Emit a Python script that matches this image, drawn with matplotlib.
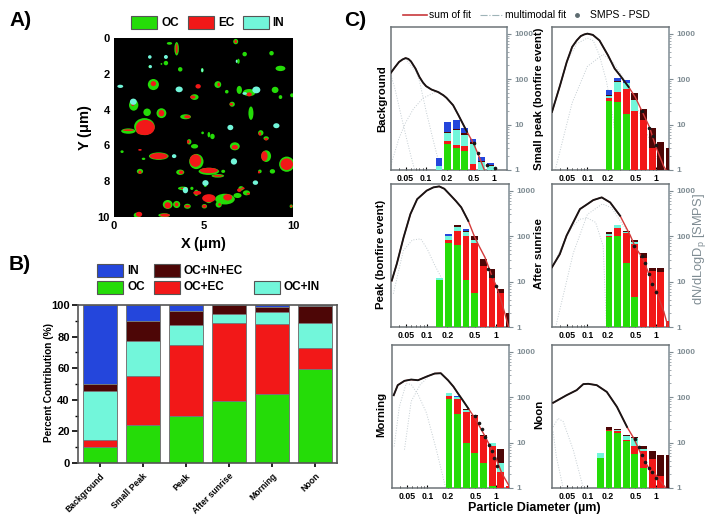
import matplotlib
matplotlib.use("Agg")
import matplotlib.pyplot as plt
import numpy as np
from matplotlib.patches import Ellipse, Rectangle

plt.rcParams['font.family'] = ['Liberation Sans', 'DejaVu Sans']
plt.rcParams['font.weight'] = 'bold'
plt.rcParams['mathtext.default'] = 'regular'

W, H = 709, 519
GREEN, RED, CYAN, DARK, BLUE = '#25dc08', '#f21818', '#72f6da', '#4d0606', '#2446dc'
GREY = '#7f8c93'

# ---- panel A particles: x, y, width, height (um)
oc_x = [3.5, 3.1, 6.8, 2.0, 2.9, 2.65, 3.7, 4.93, 7.3, 6.95, 8.8, 9.3, 9.0, 2.2, 5.8, 6.3, 7.0, 7.55, 8.95, 9.3, 4.5, 6.6, 1.1, 1.85, 2.65, 4.0, 7.65, 5.3, 5.5, 4.95, 0.45, 1.65, 8.2, 8.5, 4.2, 4.5, 6.75, 2.5, 4.6, 5.3, 5.8, 3.7, 8.5, 9.65, 1.45, 8.15, 8.85, 6.1, 3.85, 4.6, 5.3, 5.05, 6.2, 5.85, 6.9, 7.1, 7.4, 3.0, 2.8, 3.5, 4.1, 9.9, 1.3, 5.1, 4.35, 9.95, 1.7, 0.8]
oc_y = [0.6, 0.3, 0.2, 1.6, 1.4, 1.45, 1.75, 1.8, 0.9, 1.3, 0.85, 1.7, 2.9, 2.6, 2.6, 3.0, 2.9, 3.05, 2.9, 3.3, 3.3, 3.7, 3.75, 4.15, 4.2, 4.4, 4.2, 5.4, 5.5, 5.3, 6.35, 6.75, 5.3, 5.6, 5.8, 6.05, 6.05, 6.6, 6.9, 7.45, 7.7, 7.5, 6.6, 7.05, 7.45, 7.45, 7.45, 7.45, 8.4, 8.65, 9.0, 9.4, 9.0, 9.3, 8.8, 8.4, 8.65, 9.3, 9.9, 9.3, 9.4, 9.4, 9.9, 8.25, 8.4, 3.2, 4.95, 5.2]
oc_w = [0.25, 0.3, 0.28, 0.15, 0.25, 0.1, 0.25, 0.15, 0.25, 0.15, 0.25, 0.55, 0.38, 0.62, 0.38, 0.2, 0.3, 0.7, 0.1, 0.2, 0.45, 0.3, 0.52, 0.42, 0.55, 0.6, 0.28, 0.15, 0.25, 0.15, 0.18, 0.2, 0.3, 0.3, 0.25, 0.4, 0.55, 1.1, 0.8, 1.15, 0.7, 0.45, 0.55, 0.85, 0.35, 0.2, 0.3, 0.22, 0.55, 0.25, 0.45, 0.3, 1.1, 0.35, 0.45, 0.3, 0.4, 0.55, 0.65, 0.4, 0.38, 0.18, 0.4, 0.15, 0.18, 0.22, 1.15, 0.8]
oc_h = [0.75, 0.15, 0.3, 0.15, 0.25, 0.1, 0.25, 0.25, 0.25, 0.28, 0.25, 0.3, 0.35, 0.62, 0.38, 0.2, 0.45, 0.4, 0.1, 0.22, 0.32, 0.28, 0.62, 0.42, 0.55, 0.28, 0.75, 0.3, 0.3, 0.15, 0.15, 0.13, 0.3, 0.22, 0.3, 0.25, 0.45, 0.42, 0.85, 0.4, 0.2, 0.3, 0.65, 0.85, 0.28, 0.2, 0.25, 0.18, 0.2, 0.35, 0.45, 0.25, 0.6, 0.35, 0.28, 0.25, 0.28, 0.5, 0.22, 0.4, 0.28, 0.2, 0.3, 0.15, 0.18, 0.22, 0.95, 0.3]
ec_x = [3.5, 6.8, 2.2, 5.85, 7.55, 4.7, 4.4, 6.55, 1.05, 2.65, 4.1, 1.75, 1.55, 0.8, 8.15, 8.5, 4.15, 6.75, 1.45, 2.5, 4.55, 5.3, 5.8, 3.75, 8.4, 9.65, 1.45, 8.1, 3.8, 4.65, 5.3, 5.05, 6.35, 5.9, 7.0, 7.2, 7.5, 3.0, 2.85, 3.5, 4.1, 9.9, 1.4, 5.1]
ec_y = [0.6, 0.2, 2.55, 2.6, 3.15, 2.7, 3.3, 3.7, 3.7, 4.2, 4.4, 5.0, 5.2, 5.15, 5.35, 5.65, 5.8, 6.1, 6.25, 6.6, 6.85, 7.4, 7.7, 7.5, 6.6, 7.05, 7.5, 7.5, 8.4, 8.65, 8.95, 9.4, 8.9, 9.3, 8.5, 8.4, 8.7, 9.35, 9.9, 9.3, 9.4, 9.4, 9.85, 8.2]
ec_w = [0.12, 0.15, 0.3, 0.15, 0.3, 0.3, 0.3, 0.2, 0.18, 0.32, 0.35, 1.05, 0.6, 0.6, 0.15, 0.2, 0.15, 0.35, 0.2, 1.0, 0.65, 1.0, 0.55, 0.25, 0.36, 0.7, 0.18, 0.12, 0.15, 0.45, 0.75, 0.25, 0.5, 0.15, 0.25, 0.2, 0.2, 0.35, 0.55, 0.2, 0.3, 0.12, 0.35, 0.08]
ec_h = [0.55, 0.18, 0.28, 0.22, 0.22, 0.25, 0.18, 0.15, 0.2, 0.35, 0.18, 0.85, 0.4, 0.1, 0.2, 0.15, 0.2, 0.25, 0.1, 0.35, 0.7, 0.3, 0.1, 0.2, 0.55, 0.65, 0.18, 0.14, 0.08, 0.22, 0.45, 0.18, 0.35, 0.15, 0.2, 0.12, 0.12, 0.35, 0.18, 0.22, 0.15, 0.12, 0.28, 0.08]
in_x = [2.0, 2.03, 0.35, 3.64, 6.5, 9.07, 3.36, 6.7, 7.9, 7.95, 7.3, 1.08, 5.11, 3.99, 2.9, 4.93, 6.85]
in_y = [1.06, 1.6, 2.7, 2.87, 5.0, 4.9, 6.6, 6.9, 8.08, 2.9, 3.1, 3.56, 8.1, 8.5, 1.06, 1.8, 1.3]
in_w = [0.2, 0.18, 0.33, 0.4, 0.33, 0.35, 0.25, 0.35, 0.3, 0.45, 0.25, 0.38, 0.35, 0.3, 0.22, 0.12, 0.1]
in_h = [0.2, 0.18, 0.18, 0.32, 0.3, 0.28, 0.22, 0.35, 0.25, 0.38, 0.15, 0.35, 0.32, 0.35, 0.22, 0.2, 0.18]

# ---- panel B cumulative tops (%)
b_labels = ['Background', 'Small Peak', 'Peak', 'After sunrise', 'Morning', 'Noon']
b_oc = [10.1, 24.1, 29.8, 39.5, 43.6, 59.2]
b_ec = [14.8, 55.2, 74.8, 88.6, 88.0, 72.9]
b_in = [45.7, 77.4, 87.1, 94.5, 95.6, 88.6]
b_mix = [50.3, 89.9, 96.0, 100, 98.5, 99.6]
b_blue = [100, 100, 100, 100, 100, 100]

# ---- panel C size bins (um) and cumulative bar tops: OC, EC, OC+IN, mix, IN
bins = [0.155, 0.207, 0.277, 0.37, 0.49, 0.66, 0.88, 1.17, 1.56]
bg_tops = [[1, 3.8, 3.1, 2.65, 1, 1, 1, 1, 1],
           [1, 4.4, 3.5, 3.4, 1.35, 1, 1, 1, 1],
           [1.2, 6.4, 7.5, 6.0, 3.8, 1.5, 1.25, 1, 1],
           [1.2, 6.9, 7.8, 6.4, 4.2, 1.6, 1.3, 1, 1],
           [1.8, 11.5, 12.3, 8.2, 4.8, 1.9, 1.45, 1, 1]]
small_tops = [[1, 33, 31, 17, 1, 1, 1, 1, 1],
              [1, 38, 53, 60, 20, 12.5, 3.1, 1, 1],
              [1, 42, 87, 80, 35, 12.5, 3.1, 1, 1],
              [1, 44, 90, 84, 50, 22.5, 8.5, 4.1, 3.1],
              [1, 57, 107, 94, 50, 22.5, 8.5, 4.1, 3.1]]
peak_tops = [[11, 70, 65, 11, 5.5, 1, 1, 1, 1],
             [11, 80, 132, 103, 70, 22, 12, 5.5, 1],
             [12, 100, 160, 125, 82, 22, 12, 5.5, 1],
             [12, 103, 175, 130, 100, 31, 19, 7, 2],
             [12, 111, 175, 143, 100, 31, 19, 7, 2]]
sunrise_tops = [[1, 95, 100, 26, 4.6, 1, 1, 1, 1],
                [1, 103, 153, 115, 67, 33, 17.5, 16, 1.35],
                [1, 110, 178, 120, 76, 33, 17.5, 16, 1.35],
                [1, 120, 178, 130, 82, 43, 20, 20, 1.35],
                [1, 120, 178, 130, 82, 43, 20, 20, 1.35]]
morning_tops = [[1, 89, 43, 10, 5.8, 3.5, 1.1, 1, 1],
                [1, 108, 93, 48, 39, 14, 8.5, 2.3, 1.1],
                [1, 120, 100, 53, 39, 14, 9.7, 3.5, 1.1],
                [1, 125, 100, 55, 40, 15, 9.7, 7.2, 1.1],
                [1, 125, 108, 55, 40, 15, 9.7, 7.2, 1.1]]
noon_tops = [[4.5, 18, 16.5, 10.8, 5.7, 2.8, 1, 1, 1],
             [4.5, 18.5, 18, 11.2, 8.5, 6.5, 4.4, 1.8, 1],
             [6, 19, 18.5, 13.8, 12.8, 7.2, 4.4, 1.8, 1],
             [6, 21.7, 20, 14.3, 13, 8.5, 6.5, 5.2, 5.2],
             [6, 21.7, 20, 14.3, 13, 8.5, 6.5, 5.2, 5.2]]

# ---- panel C sum of fit
bg_d = [0.0305, 0.035, 0.04, 0.045, 0.05, 0.055, 0.06, 0.07, 0.08, 0.09, 0.1, 0.12, 0.15, 0.18, 0.2, 0.25, 0.3, 0.4, 0.5, 0.6, 0.72]
bg_fit = [139, 184, 238, 270, 290, 277, 245, 170, 111, 84, 70, 59, 52, 44, 38.6, 26.6, 16, 6.9, 3.8, 2, 1]
small_d = [0.0305, 0.04, 0.05, 0.06, 0.07, 0.08, 0.09, 0.1, 0.12, 0.15, 0.2, 0.25, 0.3, 0.4, 0.5, 0.6, 0.8, 1.0, 1.3, 1.4]
small_fit = [19, 73, 237, 510, 710, 883, 960, 1000, 940, 710, 333, 170, 120, 67, 40, 22.5, 9, 3.2, 1.2, 1]
peak_d = [0.0313, 0.037, 0.0464, 0.0582, 0.0729, 0.1, 0.125, 0.152, 0.18, 0.225, 0.265, 0.316, 0.4, 0.496, 0.58, 0.697, 0.85, 1.03, 1.25, 1.53]
peak_fit = [10.5, 24.5, 94, 305, 650, 1000, 1180, 1240, 1100, 770, 590, 430, 215, 94, 58, 34, 15, 7.5, 3, 1]
sunrise_d = [0.0305, 0.0396, 0.0497, 0.0622, 0.078, 0.1, 0.122, 0.162, 0.215, 0.3, 0.424, 0.5, 0.63, 0.79, 1.0, 1.3, 1.5]
sunrise_fit = [20.7, 40, 102, 200, 393, 505, 620, 710, 550, 280, 102, 57, 34, 14.8, 6.4, 2.2, 1]
morning_d = [0.0323, 0.037, 0.0464, 0.058, 0.073, 0.1, 0.128, 0.157, 0.2, 0.24, 0.28, 0.33, 0.396, 0.496, 0.697, 0.978, 1.22, 1.62]
morning_fit = [110, 183, 228, 243, 235, 287, 330, 335, 235, 170, 120, 84, 56, 34, 13.5, 4.9, 2.1, 1]
noon_d = [0.0317, 0.0497, 0.0697, 0.0873, 0.103, 0.137, 0.192, 0.27, 0.379, 0.475, 0.63, 0.79, 0.99, 1.39]
noon_fit = [75, 110, 142, 193, 196, 183, 130, 61, 22, 12.4, 4.9, 2.7, 1.96, 1]

# ---- panel C individual modes: (diameters, values)
bg_modes = [([0.0305, 0.035, 0.04, 0.05, 0.06, 0.068], [120, 60, 25, 6, 2, 1]),
            ([0.05, 0.07, 0.08, 0.1, 0.13, 0.165], [280, 150, 90, 20, 4, 1]),
            ([0.0305, 0.04, 0.05, 0.065, 0.09, 0.15, 0.2], [1.3, 5, 11, 22, 38, 55, 39])]
small_modes = [([0.0305, 0.05, 0.07, 0.1, 0.122, 0.15, 0.19, 0.24, 0.285], [19, 230, 600, 800, 700, 330, 90, 12, 1]),
               ([0.034, 0.06, 0.1, 0.17, 0.24, 0.42, 0.75, 1.2], [1, 30, 190, 350, 230, 62, 6, 1])]
peak_modes = [([0.033, 0.046, 0.062, 0.082, 0.102, 0.128, 0.166], [5.4, 48, 82, 87, 52, 24.5, 11.5])]
sunrise_modes = [([0.0305, 0.0497, 0.0622, 0.078, 0.1, 0.132, 0.17, 0.19], [20, 100, 170, 235, 250, 200, 60, 1]),
                 ([0.0345, 0.0497, 0.0622, 0.1, 0.165, 0.225, 0.42, 1.0], [1, 10, 42, 300, 510, 420, 102, 6.4])]
morning_modes = [([0.0328, 0.039, 0.049, 0.058, 0.073, 0.097, 0.135, 0.185], [8.2, 61, 198, 190, 115, 45, 7, 1]),
                 ([0.0464, 0.058, 0.079, 0.104], [7, 80, 190, 280])]
noon_modes = [([0.0317, 0.0373, 0.0444, 0.0622, 0.0873], [22, 34, 29, 6.9, 1]),
              ([0.0317, 0.0353, 0.0444], [17.4, 4.9, 1])]

# ---- panel C SMPS tails drawn as dots
bg_tail = ([0.5, 0.59, 0.78, 1.03], [4, 2.4, 1.3, 1.1])
small_tail = ([0.63, 0.8, 0.9, 1.0], [20, 8.5, 5.5, 3.5])
peak_tail = ([0.78, 0.87, 1.0], [19, 13, 8])
sunrise_tail = ([0.48, 0.63, 0.7, 0.79, 0.89, 1.0], [62, 36, 26, 15, 9, 6])
morning_tail = ([0.5, 0.56, 0.63, 0.7, 0.79, 0.87, 0.95, 1.02], [38, 27, 20, 13.5, 9, 6.5, 4.5, 3])
noon_tail = ([0.49, 0.56, 0.63, 0.7, 0.79, 0.89, 1.0], [12, 8, 5.4, 3.7, 2.7, 2.2, 1.7])

fig = plt.figure(figsize=(W / 100, H / 100), dpi=100)


def px_axes(left, top, right, bottom, **kw):
    return fig.add_axes([left / W, 1 - bottom / H, (right - left) / W, (bottom - top) / H], **kw)


# overlay for hand placed legends and labels, in pixels
over = fig.add_axes([0, 0, 1, 1], zorder=10)
over.set_xlim(0, W)
over.set_ylim(H, 0)
over.axis('off')


def box(x0, y0, x1, y1, color, edge='#555555'):
    over.add_patch(Rectangle((x0, y0), x1 - x0, y1 - y0, facecolor=color, edgecolor=edge, lw=0.8))


def label(x, y, s, size=8.5, **kw):
    over.text(x, y, s, fontsize=size, va='center', **kw)


label(9, 21, 'A)', 15)
label(9, 265, 'B)', 15)
label(344, 20, 'C)', 15)

# ---- A
for x0, s, c, tx in [(131, 'OC', GREEN, 161), (188, 'EC', RED, 218), (243, 'IN', CYAN, 272)]:
    box(x0, 16, x0 + 26, 29, c)
    label(tx, 22.5, s, 8.5)

ax = px_axes(114, 38, 293, 217)
ax.set_facecolor('black')
ax.set_xlim(0, 10)
ax.set_ylim(10, 0)
for x, y, w, h in zip(oc_x, oc_y, oc_w, oc_h):
    ax.add_patch(Ellipse((x, y), w, h, color=GREEN, lw=0))
for x, y, w, h in zip(ec_x, ec_y, ec_w, ec_h):
    ax.add_patch(Ellipse((x, y), w, h, color=RED, lw=0))
for x, y, w, h in zip(in_x, in_y, in_w, in_h):
    ax.add_patch(Ellipse((x, y), w, h, color=CYAN, lw=0))
ax.set_xticks([0, 5, 10])
ax.set_yticks([0, 2, 4, 6, 8, 10])
ax.tick_params(length=0, labelsize=8, pad=3)
for s in ax.spines.values():
    s.set_visible(False)
over.text(203, 244, 'X ($\\mu$m)', fontsize=10.5, ha='center', va='center')
over.text(85, 128, 'Y ($\\mu$m)', fontsize=10.5, rotation=90, ha='center', va='center')

# ---- B
box(97, 264, 123, 277, BLUE)
label(127, 270.5, 'IN', 8.5)
box(154, 264, 180, 277, DARK)
label(184, 270.5, 'OC+IN+EC', 8.5)
box(97, 281, 123, 294, GREEN)
label(127, 287.5, 'OC', 8.5)
box(154, 281, 180, 294, RED)
label(184, 287.5, 'OC+EC', 8.5)
box(254, 281, 280, 294, CYAN)
label(284, 287.5, 'OC+IN', 8.5)

ax = px_axes(78, 305, 337, 463)
pos = np.arange(len(b_labels))
bottom = np.zeros(len(b_labels))
for tops, c in [(b_oc, GREEN), (b_ec, RED), (b_in, CYAN), (b_mix, DARK), (b_blue, BLUE)]:
    tops = np.array(tops)
    ax.bar(pos, tops - bottom, 0.79, bottom=bottom, color=c, edgecolor='#777777', lw=0.7)
    bottom = tops
ax.set_xlim(-0.51, 5.51)
ax.set_ylim(0, 100)
ax.set_xticks(pos)
ax.set_xticklabels(b_labels, rotation=45, ha='right', rotation_mode='anchor', fontsize=6.2)
ax.set_yticks(range(0, 101, 20))
ax.set_yticks(range(10, 100, 20), minor=True)
ax.tick_params(axis='y', labelsize=8, width=1.2, length=4, pad=2)
ax.tick_params(axis='y', which='minor', width=1, length=2)
ax.tick_params(axis='x', length=3, width=1.2, pad=3)
over.text(49, 383, 'Percent Contribution (%)', fontsize=7.3, rotation=90, ha='center', va='center')
for s in ax.spines.values():
    s.set_color('#555555')
    s.set_linewidth(1.2)

# ---- C
over.plot([403, 427], [15, 15], color='#c8383c', lw=1.2)
label(429, 15, 'sum of fit', 7.5, fontweight='normal')
over.plot([480, 503], [15, 15], color='#9fb4b8', lw=0.8, ls='-.')
label(505, 15, 'multimodal fit', 7.5, fontweight='normal')
over.plot([577], [15], 'o', color='#5d6b70', ms=2.5)
label(590, 15, 'SMPS - PSD', 7.5, fontweight='normal')

ratio = 10 ** 0.05
panels = [(391, 507, 27, 170, 382, 99, 'Background', bg_tops, bg_d, bg_fit, bg_modes, bg_tail),
          (552, 669, 27, 170, 539, 99, 'Small peak (bonfire event)', small_tops, small_d, small_fit, small_modes, small_tail),
          (391, 509, 184, 327, 381, 254, 'Peak (bonfire event)', peak_tops, peak_d, peak_fit, peak_modes, peak_tail),
          (552, 669, 184, 327, 539, 254, 'After sunrise', sunrise_tops, sunrise_d, sunrise_fit, sunrise_modes, sunrise_tail),
          (392, 509, 345, 488, 381, 414, 'Morning', morning_tops, morning_d, morning_fit, morning_modes, morning_tail),
          (552, 669, 345, 488, 539, 414, 'Noon', noon_tops, noon_d, noon_fit, noon_modes, noon_tail)]
edges = np.array(bins) / ratio
widths = np.array(bins) * ratio - edges
for left, right, top, bot, lx, ly, name, tops, d, fit, modes, tail in panels:
    ax = px_axes(left, top, right, bot)
    ax.set_xscale('log')
    ax.set_yscale('log')
    base = np.ones(len(bins))
    for row, c in zip(tops, [GREEN, RED, CYAN, DARK, BLUE]):
        row = np.array(row, dtype=float)
        ax.bar(edges, row - base, widths, bottom=base, align='edge', color=c, lw=0, zorder=3)
        base = row
    for md, mv in modes:
        ax.plot(md, mv, color='#c4cdd2', lw=0.7, ls=':', zorder=2)
    # thin red fit, black only where the SMPS data is dense
    ax.plot(d, fit, color='#d33a3a', lw=1.0, zorder=5)
    mask = np.array(d) < 0.42
    ax.plot(np.array(d)[mask], np.array(fit)[mask], color='#161616', lw=1.35, zorder=6)
    ax.plot(tail[0], tail[1], 'o', color='#161616', ms=1.6, zorder=6)
    ax.set_xlim(0.0305, 1.55)
    ax.set_ylim(1, 1400)
    ax.set_xticks([0.05, 0.1, 0.2, 0.5, 1])
    ax.set_xticklabels(['0.05', '0.1', '0.2', '0.5', '1'])
    ax.tick_params(axis='x', which='major', labelsize=6.3, length=2.5, width=0.8, direction='in', pad=3)
    ax.tick_params(axis='x', which='minor', length=1.5, width=0.6, direction='in', labelbottom=False)
    ax.yaxis.tick_right()
    ax.set_yticks([1, 10, 100, 1000])
    ax.set_yticklabels(['1', '10', '100', '1000'])
    ax.tick_params(axis='y', which='major', labelsize=6, labelcolor=GREY, color=GREY, length=3, width=0.8, pad=2)
    ax.tick_params(axis='y', which='minor', color=GREY, length=1.5, width=0.5, labelright=False)
    for side, s in ax.spines.items():
        s.set_color('#6d7478' if side in ('top', 'bottom', 'left') else GREY)
        s.set_linewidth(1.1)
    over.text(lx, ly, name, rotation=90, fontsize=8.2, ha='center', va='center')

over.text(534, 508, 'Particle Diameter (µm)', fontsize=9, ha='center', va='center')
over.text(700, 249, 'dN/dLogD$_{p}$ [SMPS]', rotation=90, fontsize=9.3, color=GREY,
          ha='center', va='center', fontweight='normal')

fig.savefig('out.png', dpi=100)
plt.show()
